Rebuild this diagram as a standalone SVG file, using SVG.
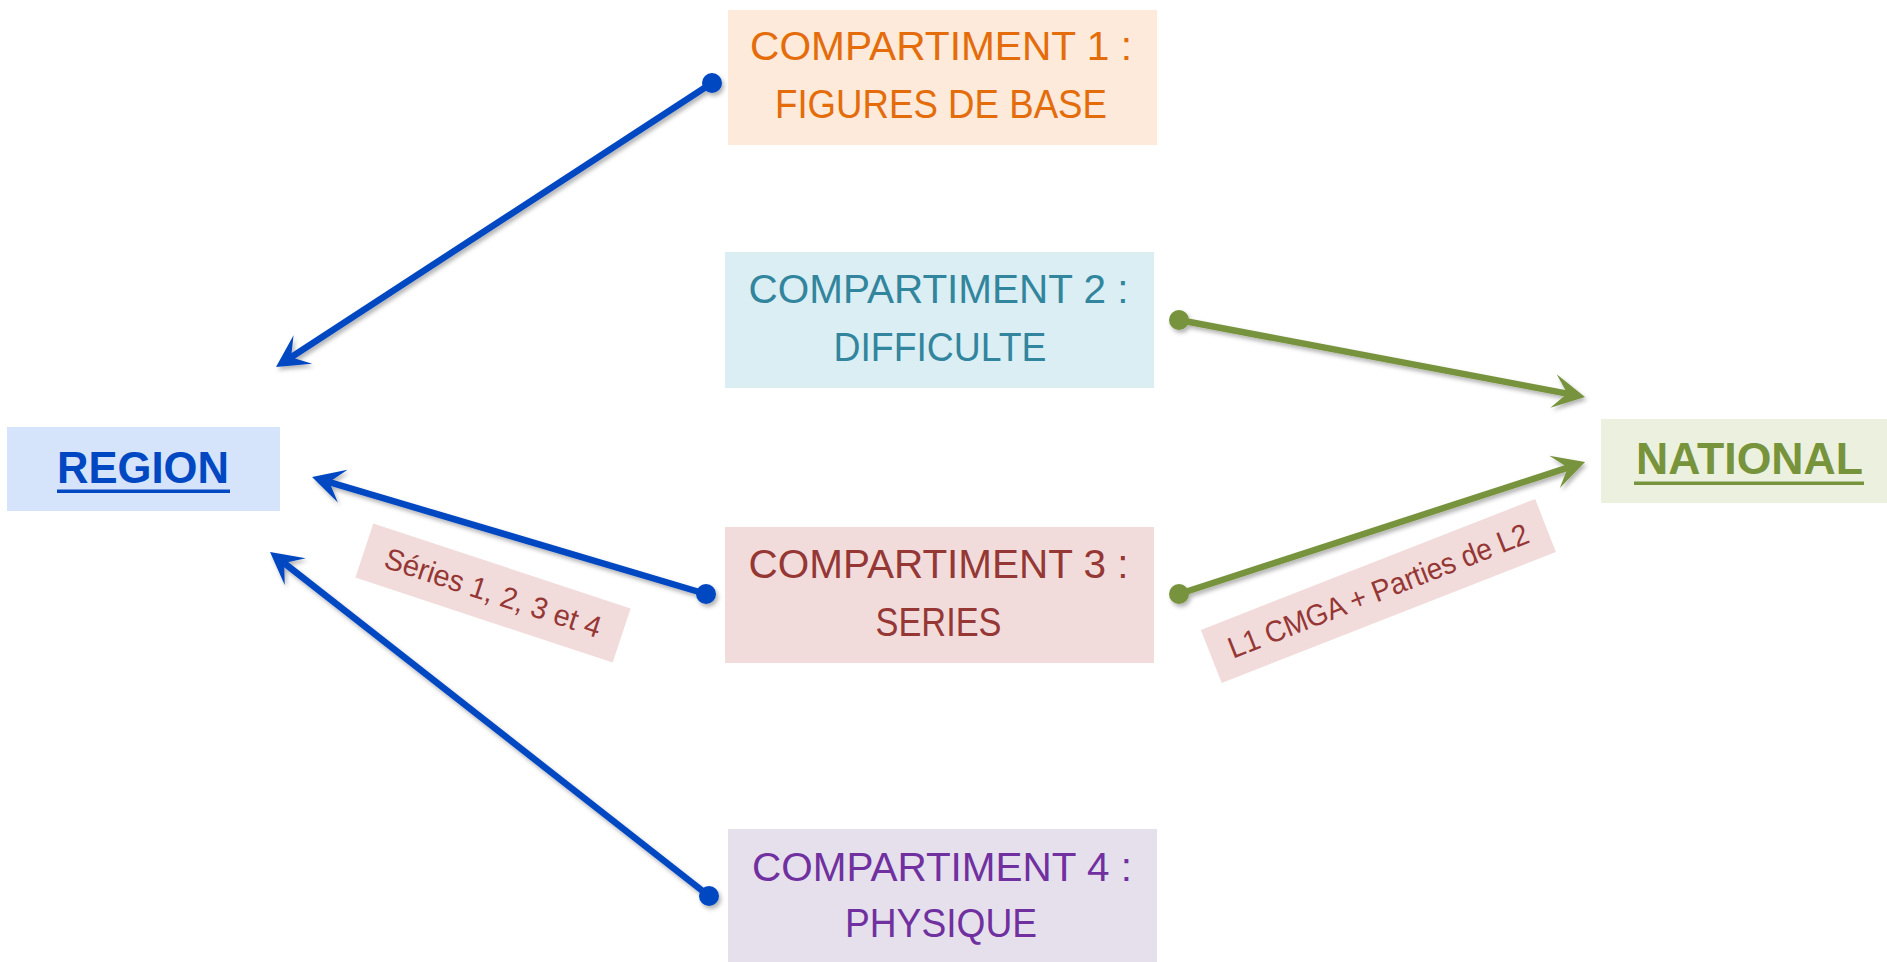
<svg xmlns="http://www.w3.org/2000/svg" width="1887" height="962" viewBox="0 0 1887 962">
<style>
.t{font-family:"Liberation Sans",Arial,sans-serif;text-anchor:middle}
.c{font-size:41px}
.b{font-size:45px;font-weight:bold}
.l{font-size:30px;fill:#953735}
.blue{stroke:#0047c2;stroke-width:6.5;fill:none}
.green{stroke:#77933c;stroke-width:6.5;fill:none}
</style>
<defs>
<filter id="sh" x="-10%" y="-10%" width="120%" height="120%">
<feDropShadow dx="2" dy="3" stdDeviation="2" flood-color="#000" flood-opacity="0.3"/>
</filter>
<marker id="ab" markerUnits="userSpaceOnUse" markerWidth="40" markerHeight="40" viewBox="-20 -20 40 40" refX="0" refY="0" orient="auto" overflow="visible">
<path d="M18,0 L-14,-17 L0,0 L-14,17 Z" fill="#0047c2"/>
</marker>
<marker id="ag" markerUnits="userSpaceOnUse" markerWidth="40" markerHeight="40" viewBox="-20 -20 40 40" refX="0" refY="0" orient="auto" overflow="visible">
<path d="M18,0 L-14,-17 L0,0 L-14,17 Z" fill="#77933c"/>
</marker>
</defs>
<rect width="1887" height="962" fill="#fff"/>

<g id="region">
<rect x="7" y="427" width="273" height="84" fill="#d5e3fb"/>
<text class="t b" x="143" y="483" fill="#0047c2" textLength="172" lengthAdjust="spacingAndGlyphs">REGION</text>
<rect x="57" y="489.5" width="173" height="3.5" fill="#0047c2"/>
</g>

<g id="national">
<rect x="1601" y="419" width="286" height="84" fill="#ebf1de"/>
<text class="t b" x="1749.5" y="474" fill="#77933c" textLength="227" lengthAdjust="spacingAndGlyphs">NATIONAL</text>
<rect x="1634" y="481.5" width="230" height="3.5" fill="#77933c"/>
</g>

<g id="comp1">
<rect x="728" y="10" width="429" height="135" fill="#fdeada"/>
<text class="t c" x="941" y="60" fill="#e46c0a" textLength="382" lengthAdjust="spacingAndGlyphs">COMPARTIMENT 1 :</text>
<text class="t c" x="941" y="118" fill="#e46c0a" textLength="332" lengthAdjust="spacingAndGlyphs">FIGURES DE BASE</text>
</g>

<g id="comp2">
<rect x="725" y="252" width="429" height="136" fill="#dbeef4"/>
<text class="t c" x="938.5" y="303" fill="#31859c" textLength="380" lengthAdjust="spacingAndGlyphs">COMPARTIMENT 2 :</text>
<text class="t c" x="940" y="361" fill="#31859c" textLength="213" lengthAdjust="spacingAndGlyphs">DIFFICULTE</text>
</g>

<g id="comp3">
<rect x="725" y="527" width="429" height="136" fill="#f2dcdb"/>
<text class="t c" x="938.5" y="578" fill="#953735" textLength="380" lengthAdjust="spacingAndGlyphs">COMPARTIMENT 3 :</text>
<text class="t c" x="938.5" y="636" fill="#953735" textLength="126" lengthAdjust="spacingAndGlyphs">SERIES</text>
</g>

<g id="comp4">
<rect x="728" y="829" width="429" height="133" fill="#e6e0ec"/>
<text class="t c" x="942" y="881" fill="#7030a0" textLength="380" lengthAdjust="spacingAndGlyphs">COMPARTIMENT 4 :</text>
<text class="t c" x="941" y="937" fill="#7030a0" textLength="192" lengthAdjust="spacingAndGlyphs">PHYSIQUE</text>
</g>

<g id="connectors" filter="url(#sh)">
<line class="blue" x1="712" y1="83" x2="291.1" y2="357.2" marker-end="url(#ab)"/>
<circle cx="712" cy="83" r="10" fill="#0047c2"/>
<line class="blue" x1="706" y1="594" x2="329.3" y2="482.1" marker-end="url(#ab)"/>
<circle cx="706" cy="594" r="10" fill="#0047c2"/>
<line class="blue" x1="709" y1="896" x2="284.2" y2="563.1" marker-end="url(#ab)"/>
<circle cx="709" cy="896" r="10" fill="#0047c2"/>
<line class="green" x1="1179" y1="320" x2="1567.3" y2="393.6" marker-end="url(#ag)"/>
<circle cx="1179" cy="320" r="10" fill="#77933c"/>
<line class="green" x1="1179" y1="594" x2="1567.9" y2="467.6" marker-end="url(#ag)"/>
<circle cx="1179" cy="594" r="10" fill="#77933c"/>
</g>

<g id="label-series" transform="translate(493,593) rotate(18.3)">
<rect x="-135.5" y="-28.5" width="271" height="57" fill="#f2dcdb"/>
<text class="t l" x="0" y="10" textLength="226" lengthAdjust="spacingAndGlyphs">Séries 1, 2, 3 et 4</text>
</g>

<g id="label-l1" transform="translate(1378.4,591) rotate(-21.4)">
<rect x="-179.5" y="-28.5" width="359" height="57" fill="#f2dcdb"/>
<text class="t l" x="0" y="10" textLength="320" lengthAdjust="spacingAndGlyphs">L1 CMGA + Parties de L2</text>
</g>
</svg>
